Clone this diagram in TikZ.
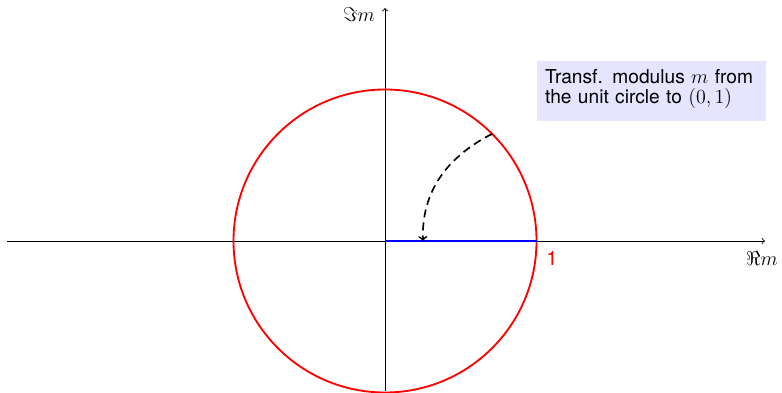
\documentclass[tikz,border=0pt]{standalone}
\usepackage{fontspec}
\setmainfont{TeX Gyre Heros}
\usetikzlibrary{arrows,calc}
\begin{document}
\begin{tikzpicture}[x=0.6pt,y=0.6pt,
  every node/.style={font=\fontsize{12}{14}\selectfont},
  axis/.style={->,line width=0.5pt},
  unitcircle/.style={draw=red,line width=1.1pt},
  seg/.style={draw=blue,line width=1.1pt},
  mapping/.style={->,line width=1pt,dash pattern=on 4.8pt off 3pt},
  infobox/.style={fill=blue!10,text width=128pt,align=left,inner sep=4.6pt,anchor=north west,font=\fontsize{11.5}{12.3}\selectfont}]
\useasboundingbox (0,0) rectangle (782,393);
\coordinate (O) at (385,152);
\coordinate (xs) at (7,152);
\coordinate (xe) at (765,152);
\coordinate (ys) at (385,2);
\coordinate (ye) at (385,385);
\coordinate (R1) at (536.5,152);
\coordinate (P) at ($(O)+(45:151.5)$);
\coordinate (Q) at (423,152);
\draw[axis] (xs) -- (xe);
\draw[axis] (ys) -- (ye);
\node[anchor=east,inner sep=0pt] (imlab) at (375,378) {$\Im m$};
\node[inner sep=0pt] (relab) at (762,134) {$\Re m$};
\draw[unitcircle] (O) circle (151.5);
\draw[seg] (O) -- (R1);
\node[text=red,inner sep=0pt] (one) at (552,135) {1};
\draw[mapping] (P) to[out=207,in=92] (Q);
\node[infobox] (box) at (537,332) {Transf. modulus $m$ from the unit circle to $(0,1)$\rule[-5.6pt]{0pt}{1pt}};
\end{tikzpicture}
\end{document}
